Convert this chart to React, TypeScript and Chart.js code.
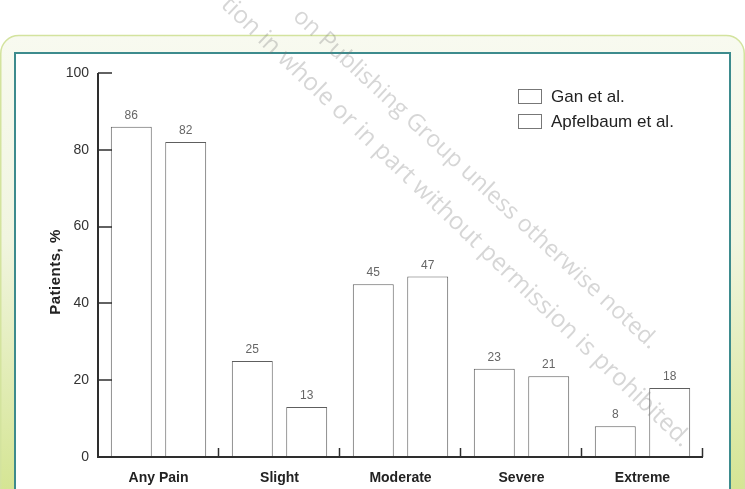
import React, { useEffect, useRef } from "react";
import { Chart, registerables } from "chart.js";

Chart.register(...registerables);

const categories = ["Any Pain", "Slight", "Moderate", "Severe", "Extreme"];
const ganValues = [86, 25, 45, 23, 8];
const apfelbaumValues = [82, 13, 47, 21, 18];
const seriesNames = ["Gan et al.", "Apfelbaum et al."];
const yTicks = [0, 20, 40, 60, 80, 100];
const yTitle = "Patients, %";
const watermark1 = "on Publishing Group unless otherwise noted.";
const watermark2 = "tion in whole or in part without permission is prohibited.";

const W = 745;
const H = 489;
const FONT = '"Liberation Sans", Arial, Helvetica, sans-serif';

const decorPlugin = {
  id: "decor",
  beforeDraw(chart: any) {
    const ctx = chart.ctx as CanvasRenderingContext2D;
    ctx.save();
    const g = ctx.createLinearGradient(0, 35, 0, H);
    g.addColorStop(0, "#f8faf0");
    g.addColorStop(0.45, "#f1f5e0");
    g.addColorStop(1, "#d5e594");
    ctx.beginPath();
    (ctx as any).roundRect(0.75, 35.5, W - 1.5, H + 40, 18);
    ctx.fillStyle = g;
    ctx.fill();
    ctx.strokeStyle = "#d3e39e";
    ctx.lineWidth = 1.5;
    ctx.stroke();
    ctx.fillStyle = "#ffffff";
    ctx.fillRect(15, 53, 715, H);
    ctx.strokeStyle = "#3d8b8d";
    ctx.lineWidth = 2;
    ctx.strokeRect(15, 53, 715, H + 20);
    ctx.restore();
  },
  afterDatasetsDraw(chart: any) {
    const ctx = chart.ctx as CanvasRenderingContext2D;
    const ys = chart.scales.y;
    const { left, right } = chart.chartArea;
    const y0 = ys.getPixelForValue(0);
    const y100 = ys.getPixelForValue(100);
    ctx.save();
    ctx.strokeStyle = "#2e2e2e";
    ctx.lineWidth = 2;
    ctx.beginPath();
    ctx.moveTo(left, y100);
    ctx.lineTo(left, y0);
    ctx.lineTo(right, y0);
    ctx.stroke();
    ctx.lineWidth = 1.5;
    yTicks.forEach((v) => {
      const p = Math.round(ys.getPixelForValue(v));
      ctx.beginPath();
      ctx.moveTo(left, p);
      ctx.lineTo(left + 14, p);
      ctx.stroke();
    });
    const n = categories.length;
    for (let i = 1; i <= n; i++) {
      const bx = Math.round(left + ((right - left) * i) / n) - 0.5;
      ctx.beginPath();
      ctx.moveTo(bx, y0);
      ctx.lineTo(bx, y0 - 9);
      ctx.stroke();
    }
    // value labels
    ctx.fillStyle = "#666666";
    ctx.font = `12px ${FONT}`;
    ctx.textAlign = "center";
    ctx.textBaseline = "alphabetic";
    [ganValues, apfelbaumValues].forEach((vals, d) => {
      const meta = chart.getDatasetMeta(d);
      meta.data.forEach((el: any, i: number) => {
        ctx.fillText(String(vals[i]), el.x, el.y - 8);
      });
    });
    // legend
    ctx.font = `17px ${FONT}`;
    ctx.textAlign = "left";
    ctx.textBaseline = "middle";
    seriesNames.forEach((name, i) => {
      const by = 89.5 + i * 25;
      ctx.fillStyle = "#ffffff";
      ctx.fillRect(518.5, by, 23, 14);
      ctx.strokeStyle = "#777777";
      ctx.lineWidth = 1;
      ctx.strokeRect(518.5, by, 23, 14);
      ctx.fillStyle = "#222222";
      ctx.fillText(name, 551, by + 8);
    });
    // y title
    ctx.save();
    ctx.translate(56, 272);
    ctx.rotate(-Math.PI / 2);
    ctx.font = `bold 15px ${FONT}`;
    (ctx as any).letterSpacing = "0.5px";
    ctx.fillStyle = "#222222";
    ctx.textAlign = "center";
    ctx.textBaseline = "middle";
    ctx.fillText(yTitle, 0, 0);
    ctx.restore();
    ctx.restore();
  },
  afterDraw(chart: any) {
    const ctx = chart.ctx as CanvasRenderingContext2D;
    const drawLine = (text: string, x0: number, y0: number, x1: number, y1: number) => {
      const len = Math.hypot(x1 - x0, y1 - y0);
      const ang = Math.atan2(y1 - y0, x1 - x0);
      ctx.save();
      ctx.font = `20px "Open Sans", sans-serif`;
      const w = ctx.measureText(text).width;
      const size = (20 * len) / w;
      ctx.font = `${size.toFixed(2)}px "Open Sans", sans-serif`;
      ctx.translate(x0, y0);
      ctx.rotate(ang);
      ctx.fillStyle = "rgba(120,120,120,0.3)";
      ctx.textAlign = "left";
      ctx.textBaseline = "alphabetic";
      ctx.fillText(text, 0, 0);
      ctx.restore();
    };
    drawLine(watermark1, 292, 18, 650, 350);
    drawLine(watermark2, 220, 6, 682, 448);
  },
};

export default function App() {
  const ref = useRef<HTMLCanvasElement>(null);
  useEffect(() => {
    document.body.style.margin = "0";
    const chart = new Chart(ref.current as HTMLCanvasElement, {
      type: "bar",
      data: {
        labels: categories,
        datasets: [
          {
            label: seriesNames[0],
            data: ganValues,
            backgroundColor: "#ffffff",
            borderColor: "#5e5e5e",
            borderWidth: 1,
            categoryPercentage: 0.9,
            barPercentage: 0.752,
          },
          {
            label: seriesNames[1],
            data: apfelbaumValues,
            backgroundColor: "#ffffff",
            borderColor: "#5e5e5e",
            borderWidth: 1,
            categoryPercentage: 0.9,
            barPercentage: 0.752,
          },
        ],
      },
      options: {
        animation: false,
        responsive: false,
        devicePixelRatio: 1,
        layout: { padding: { top: 73, right: 42, bottom: 0, left: 0 } },
        plugins: { legend: { display: false }, tooltip: { enabled: false } },
        scales: {
          x: {
            grid: { display: false, drawTicks: false },
            border: { display: false },
            ticks: {
              color: "#222222",
              font: { family: FONT, size: 14, weight: "bold" },
              padding: 13,
            },
            afterFit: (s: any) => {
              s.height = 32;
            },
          },
          y: {
            min: 0,
            max: 100,
            grid: { display: false, drawTicks: false },
            border: { display: false },
            ticks: {
              stepSize: 20,
              color: "#333333",
              font: { family: FONT, size: 14 },
              padding: 9,
            },
            afterFit: (s: any) => {
              s.width = 98;
            },
          },
        },
      },
      plugins: [decorPlugin],
    } as any);
    return () => chart.destroy();
  }, []);
  return (
    <div style={{ position: "fixed", left: 0, top: 0, width: W, height: H }}>
      <canvas ref={ref} width={W} height={H} style={{ width: W, height: H, display: "block" }} />
    </div>
  );
}
